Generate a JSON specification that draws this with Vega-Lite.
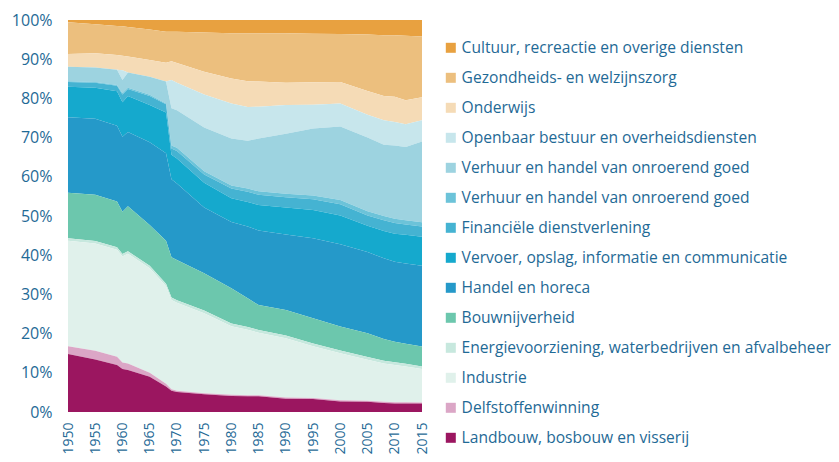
{
  "$schema": "https://vega.github.io/schema/vega-lite/v6.json",
  "width": 354,
  "height": 392,
  "autosize": {"type": "none"},
  "padding": {"left": 68, "top": 20, "right": 417, "bottom": 50},
  "background": "white",
  "config": {"view": {"stroke": null}, "font": "Open Sans"},
  "datasets": {
    "shares": [
      {"year":1950,"sector":"Cultuur, recreactie en overige diensten","share":0.6},
      {"year":1950,"sector":"Gezondheids- en welzijnszorg","share":8.1},
      {"year":1950,"sector":"Onderwijs","share":3.2},
      {"year":1950,"sector":"Openbaar bestuur en overheidsdiensten","share":0},
      {"year":1950,"sector":"Verhuur en handel van onroerend goed (a)","share":3.7},
      {"year":1950,"sector":"Verhuur en handel van onroerend goed (b)","share":0.2},
      {"year":1950,"sector":"Financiële dienstverlening","share":1.2},
      {"year":1950,"sector":"Vervoer, opslag, informatie en communicatie","share":7.8},
      {"year":1950,"sector":"Handel en horeca","share":19.3},
      {"year":1950,"sector":"Bouwnijverheid","share":11.6},
      {"year":1950,"sector":"Energievoorziening, waterbedrijven en afvalbeheer","share":0.6},
      {"year":1950,"sector":"Industrie","share":26.9},
      {"year":1950,"sector":"Delfstoffenwinning","share":2.0},
      {"year":1950,"sector":"Landbouw, bosbouw en visserij","share":14.8},

      {"year":1955,"sector":"Cultuur, recreactie en overige diensten","share":1.1},
      {"year":1955,"sector":"Gezondheids- en welzijnszorg","share":7.4},
      {"year":1955,"sector":"Onderwijs","share":3.6},
      {"year":1955,"sector":"Openbaar bestuur en overheidsdiensten","share":0},
      {"year":1955,"sector":"Verhuur en handel van onroerend goed (a)","share":3.7},
      {"year":1955,"sector":"Verhuur en handel van onroerend goed (b)","share":0.2},
      {"year":1955,"sector":"Financiële dienstverlening","share":1.3},
      {"year":1955,"sector":"Vervoer, opslag, informatie en communicatie","share":7.9},
      {"year":1955,"sector":"Handel en horeca","share":19.4},
      {"year":1955,"sector":"Bouwnijverheid","share":11.8},
      {"year":1955,"sector":"Energievoorziening, waterbedrijven en afvalbeheer","share":0.6},
      {"year":1955,"sector":"Industrie","share":27.4},
      {"year":1955,"sector":"Delfstoffenwinning","share":2.2},
      {"year":1955,"sector":"Landbouw, bosbouw en visserij","share":13.4},

      {"year":1959,"sector":"Cultuur, recreactie en overige diensten","share":1.5},
      {"year":1959,"sector":"Gezondheids- en welzijnszorg","share":7.4},
      {"year":1959,"sector":"Onderwijs","share":3.8},
      {"year":1959,"sector":"Openbaar bestuur en overheidsdiensten","share":0},
      {"year":1959,"sector":"Verhuur en handel van onroerend goed (a)","share":3.9},
      {"year":1959,"sector":"Verhuur en handel van onroerend goed (b)","share":0.2},
      {"year":1959,"sector":"Financiële dienstverlening","share":1.4},
      {"year":1959,"sector":"Vervoer, opslag, informatie en communicatie","share":8.8},
      {"year":1959,"sector":"Handel en horeca","share":19.3},
      {"year":1959,"sector":"Bouwnijverheid","share":11.7},
      {"year":1959,"sector":"Energievoorziening, waterbedrijven en afvalbeheer","share":0.6},
      {"year":1959,"sector":"Industrie","share":27.3},
      {"year":1959,"sector":"Delfstoffenwinning","share":2.1},
      {"year":1959,"sector":"Landbouw, bosbouw en visserij","share":12.0},

      {"year":1960,"sector":"Cultuur, recreactie en overige diensten","share":1.6},
      {"year":1960,"sector":"Gezondheids- en welzijnszorg","share":7.5},
      {"year":1960,"sector":"Onderwijs","share":3.7},
      {"year":1960,"sector":"Openbaar bestuur en overheidsdiensten","share":2.5},
      {"year":1960,"sector":"Verhuur en handel van onroerend goed (a)","share":3.4},
      {"year":1960,"sector":"Verhuur en handel van onroerend goed (b)","share":0.3},
      {"year":1960,"sector":"Financiële dienstverlening","share":2.0},
      {"year":1960,"sector":"Vervoer, opslag, informatie en communicatie","share":8.8},
      {"year":1960,"sector":"Handel en horeca","share":19.1},
      {"year":1960,"sector":"Bouwnijverheid","share":10.8},
      {"year":1960,"sector":"Energievoorziening, waterbedrijven en afvalbeheer","share":0.6},
      {"year":1960,"sector":"Industrie","share":27.1},
      {"year":1960,"sector":"Delfstoffenwinning","share":1.6},
      {"year":1960,"sector":"Landbouw, bosbouw en visserij","share":11.0},

      {"year":1961,"sector":"Cultuur, recreactie en overige diensten","share":1.8},
      {"year":1961,"sector":"Gezondheids- en welzijnszorg","share":7.5},
      {"year":1961,"sector":"Onderwijs","share":4.1},
      {"year":1961,"sector":"Openbaar bestuur en overheidsdiensten","share":0},
      {"year":1961,"sector":"Verhuur en handel van onroerend goed (a)","share":3.9},
      {"year":1961,"sector":"Verhuur en handel van onroerend goed (b)","share":0.3},
      {"year":1961,"sector":"Financiële dienstverlening","share":1.8},
      {"year":1961,"sector":"Vervoer, opslag, informatie en communicatie","share":9.2},
      {"year":1961,"sector":"Handel en horeca","share":18.9},
      {"year":1961,"sector":"Bouwnijverheid","share":11.5},
      {"year":1961,"sector":"Energievoorziening, waterbedrijven en afvalbeheer","share":0.6},
      {"year":1961,"sector":"Industrie","share":28.0},
      {"year":1961,"sector":"Delfstoffenwinning","share":1.7},
      {"year":1961,"sector":"Landbouw, bosbouw en visserij","share":10.7},

      {"year":1965,"sector":"Cultuur, recreactie en overige diensten","share":2.4},
      {"year":1965,"sector":"Gezondheids- en welzijnszorg","share":7.8},
      {"year":1965,"sector":"Onderwijs","share":4.3},
      {"year":1965,"sector":"Openbaar bestuur en overheidsdiensten","share":0},
      {"year":1965,"sector":"Verhuur en handel van onroerend goed (a)","share":4.6},
      {"year":1965,"sector":"Verhuur en handel van onroerend goed (b)","share":0.3},
      {"year":1965,"sector":"Financiële dienstverlening","share":2.3},
      {"year":1965,"sector":"Vervoer, opslag, informatie en communicatie","share":9.5},
      {"year":1965,"sector":"Handel en horeca","share":21.1},
      {"year":1965,"sector":"Bouwnijverheid","share":10.4},
      {"year":1965,"sector":"Energievoorziening, waterbedrijven en afvalbeheer","share":0.6},
      {"year":1965,"sector":"Industrie","share":26.7},
      {"year":1965,"sector":"Delfstoffenwinning","share":1.0},
      {"year":1965,"sector":"Landbouw, bosbouw en visserij","share":9.0},

      {"year":1968,"sector":"Cultuur, recreactie en overige diensten","share":3.0},
      {"year":1968,"sector":"Gezondheids- en welzijnszorg","share":7.9},
      {"year":1968,"sector":"Onderwijs","share":4.8},
      {"year":1968,"sector":"Openbaar bestuur en overheidsdiensten","share":0},
      {"year":1968,"sector":"Verhuur en handel van onroerend goed (a)","share":5.6},
      {"year":1968,"sector":"Verhuur en handel van onroerend goed (b)","share":0.2},
      {"year":1968,"sector":"Financiële dienstverlening","share":2.1},
      {"year":1968,"sector":"Vervoer, opslag, informatie en communicatie","share":10.4},
      {"year":1968,"sector":"Handel en horeca","share":22.3},
      {"year":1968,"sector":"Bouwnijverheid","share":11.0},
      {"year":1968,"sector":"Energievoorziening, waterbedrijven en afvalbeheer","share":0.6},
      {"year":1968,"sector":"Industrie","share":24.9},
      {"year":1968,"sector":"Delfstoffenwinning","share":0.7},
      {"year":1968,"sector":"Landbouw, bosbouw en visserij","share":6.5},

      {"year":1969,"sector":"Cultuur, recreactie en overige diensten","share":3.0},
      {"year":1969,"sector":"Gezondheids- en welzijnszorg","share":7.5},
      {"year":1969,"sector":"Onderwijs","share":4.8},
      {"year":1969,"sector":"Openbaar bestuur en overheidsdiensten","share":7.2},
      {"year":1969,"sector":"Verhuur en handel van onroerend goed (a)","share":9.5},
      {"year":1969,"sector":"Verhuur en handel van onroerend goed (b)","share":0.8},
      {"year":1969,"sector":"Financiële dienstverlening","share":1.6},
      {"year":1969,"sector":"Vervoer, opslag, informatie en communicatie","share":6.2},
      {"year":1969,"sector":"Handel en horeca","share":19.9},
      {"year":1969,"sector":"Bouwnijverheid","share":10.3},
      {"year":1969,"sector":"Energievoorziening, waterbedrijven en afvalbeheer","share":0.6},
      {"year":1969,"sector":"Industrie","share":22.8},
      {"year":1969,"sector":"Delfstoffenwinning","share":0.4},
      {"year":1969,"sector":"Landbouw, bosbouw en visserij","share":5.4},

      {"year":1970,"sector":"Cultuur, recreactie en overige diensten","share":3.0},
      {"year":1970,"sector":"Gezondheids- en welzijnszorg","share":8.0},
      {"year":1970,"sector":"Onderwijs","share":5.0},
      {"year":1970,"sector":"Openbaar bestuur en overheidsdiensten","share":7.0},
      {"year":1970,"sector":"Verhuur en handel van onroerend goed (a)","share":9.6},
      {"year":1970,"sector":"Verhuur en handel van onroerend goed (b)","share":0.8},
      {"year":1970,"sector":"Financiële dienstverlening","share":1.9},
      {"year":1970,"sector":"Vervoer, opslag, informatie en communicatie","share":6.4},
      {"year":1970,"sector":"Handel en horeca","share":19.5},
      {"year":1970,"sector":"Bouwnijverheid","share":10.3},
      {"year":1970,"sector":"Energievoorziening, waterbedrijven en afvalbeheer","share":0.6},
      {"year":1970,"sector":"Industrie","share":22.5},
      {"year":1970,"sector":"Delfstoffenwinning","share":0.3},
      {"year":1970,"sector":"Landbouw, bosbouw en visserij","share":5.1},

      {"year":1975,"sector":"Cultuur, recreactie en overige diensten","share":3.2},
      {"year":1975,"sector":"Gezondheids- en welzijnszorg","share":10.0},
      {"year":1975,"sector":"Onderwijs","share":5.8},
      {"year":1975,"sector":"Openbaar bestuur en overheidsdiensten","share":8.4},
      {"year":1975,"sector":"Verhuur en handel van onroerend goed (a)","share":11.2},
      {"year":1975,"sector":"Verhuur en handel van onroerend goed (b)","share":0.8},
      {"year":1975,"sector":"Financiële dienstverlening","share":2.1},
      {"year":1975,"sector":"Vervoer, opslag, informatie en communicatie","share":6.3},
      {"year":1975,"sector":"Handel en horeca","share":16.8},
      {"year":1975,"sector":"Bouwnijverheid","share":9.5},
      {"year":1975,"sector":"Energievoorziening, waterbedrijven en afvalbeheer","share":0.7},
      {"year":1975,"sector":"Industrie","share":20.4},
      {"year":1975,"sector":"Delfstoffenwinning","share":0.3},
      {"year":1975,"sector":"Landbouw, bosbouw en visserij","share":4.5},

      {"year":1980,"sector":"Cultuur, recreactie en overige diensten","share":3.4},
      {"year":1980,"sector":"Gezondheids- en welzijnszorg","share":11.5},
      {"year":1980,"sector":"Onderwijs","share":6.4},
      {"year":1980,"sector":"Openbaar bestuur en overheidsdiensten","share":8.9},
      {"year":1980,"sector":"Verhuur en handel van onroerend goed (a)","share":12.0},
      {"year":1980,"sector":"Verhuur en handel van onroerend goed (b)","share":0.8},
      {"year":1980,"sector":"Financiële dienstverlening","share":2.5},
      {"year":1980,"sector":"Vervoer, opslag, informatie en communicatie","share":6.0},
      {"year":1980,"sector":"Handel en horeca","share":16.9},
      {"year":1980,"sector":"Bouwnijverheid","share":9.0},
      {"year":1980,"sector":"Energievoorziening, waterbedrijven en afvalbeheer","share":0.7},
      {"year":1980,"sector":"Industrie","share":17.5},
      {"year":1980,"sector":"Delfstoffenwinning","share":0.3},
      {"year":1980,"sector":"Landbouw, bosbouw en visserij","share":4.1},

      {"year":1983,"sector":"Cultuur, recreactie en overige diensten","share":3.4},
      {"year":1983,"sector":"Gezondheids- en welzijnszorg","share":12.2},
      {"year":1983,"sector":"Onderwijs","share":6.6},
      {"year":1983,"sector":"Openbaar bestuur en overheidsdiensten","share":8.6},
      {"year":1983,"sector":"Verhuur en handel van onroerend goed (a)","share":12.2},
      {"year":1983,"sector":"Verhuur en handel van onroerend goed (b)","share":0.8},
      {"year":1983,"sector":"Financiële dienstverlening","share":2.6},
      {"year":1983,"sector":"Vervoer, opslag, informatie en communicatie","share":6.3},
      {"year":1983,"sector":"Handel en horeca","share":18.3},
      {"year":1983,"sector":"Bouwnijverheid","share":7.3},
      {"year":1983,"sector":"Energievoorziening, waterbedrijven en afvalbeheer","share":0.7},
      {"year":1983,"sector":"Industrie","share":16.7},
      {"year":1983,"sector":"Delfstoffenwinning","share":0.3},
      {"year":1983,"sector":"Landbouw, bosbouw en visserij","share":4.0},

      {"year":1985,"sector":"Cultuur, recreactie en overige diensten","share":3.4},
      {"year":1985,"sector":"Gezondheids- en welzijnszorg","share":12.3},
      {"year":1985,"sector":"Onderwijs","share":6.4},
      {"year":1985,"sector":"Openbaar bestuur en overheidsdiensten","share":8.1},
      {"year":1985,"sector":"Verhuur en handel van onroerend goed (a)","share":13.5},
      {"year":1985,"sector":"Verhuur en handel van onroerend goed (b)","share":0.9},
      {"year":1985,"sector":"Financiële dienstverlening","share":2.6},
      {"year":1985,"sector":"Vervoer, opslag, informatie en communicatie","share":6.5},
      {"year":1985,"sector":"Handel en horeca","share":19.0},
      {"year":1985,"sector":"Bouwnijverheid","share":6.4},
      {"year":1985,"sector":"Energievoorziening, waterbedrijven en afvalbeheer","share":0.7},
      {"year":1985,"sector":"Industrie","share":15.9},
      {"year":1985,"sector":"Delfstoffenwinning","share":0.3},
      {"year":1985,"sector":"Landbouw, bosbouw en visserij","share":4.0},

      {"year":1990,"sector":"Cultuur, recreactie en overige diensten","share":3.4},
      {"year":1990,"sector":"Gezondheids- en welzijnszorg","share":12.6},
      {"year":1990,"sector":"Onderwijs","share":5.7},
      {"year":1990,"sector":"Openbaar bestuur en overheidsdiensten","share":7.3},
      {"year":1990,"sector":"Verhuur en handel van onroerend goed (a)","share":15.3},
      {"year":1990,"sector":"Verhuur en handel van onroerend goed (b)","share":0.9},
      {"year":1990,"sector":"Financiële dienstverlening","share":2.6},
      {"year":1990,"sector":"Vervoer, opslag, informatie en communicatie","share":6.9},
      {"year":1990,"sector":"Handel en horeca","share":19.3},
      {"year":1990,"sector":"Bouwnijverheid","share":6.5},
      {"year":1990,"sector":"Energievoorziening, waterbedrijven en afvalbeheer","share":0.7},
      {"year":1990,"sector":"Industrie","share":15.1},
      {"year":1990,"sector":"Delfstoffenwinning","share":0.3},
      {"year":1990,"sector":"Landbouw, bosbouw en visserij","share":3.4},

      {"year":1995,"sector":"Cultuur, recreactie en overige diensten","share":3.5},
      {"year":1995,"sector":"Gezondheids- en welzijnszorg","share":12.4},
      {"year":1995,"sector":"Onderwijs","share":5.7},
      {"year":1995,"sector":"Openbaar bestuur en overheidsdiensten","share":6.1},
      {"year":1995,"sector":"Verhuur en handel van onroerend goed (a)","share":17.1},
      {"year":1995,"sector":"Verhuur en handel van onroerend goed (b)","share":0.9},
      {"year":1995,"sector":"Financiële dienstverlening","share":2.8},
      {"year":1995,"sector":"Vervoer, opslag, informatie en communicatie","share":7.2},
      {"year":1995,"sector":"Handel en horeca","share":20.4},
      {"year":1995,"sector":"Bouwnijverheid","share":6.4},
      {"year":1995,"sector":"Energievoorziening, waterbedrijven en afvalbeheer","share":0.7},
      {"year":1995,"sector":"Industrie","share":13.2},
      {"year":1995,"sector":"Delfstoffenwinning","share":0.3},
      {"year":1995,"sector":"Landbouw, bosbouw en visserij","share":3.3},

      {"year":2000,"sector":"Cultuur, recreactie en overige diensten","share":3.6},
      {"year":2000,"sector":"Gezondheids- en welzijnszorg","share":12.2},
      {"year":2000,"sector":"Onderwijs","share":5.5},
      {"year":2000,"sector":"Openbaar bestuur en overheidsdiensten","share":5.9},
      {"year":2000,"sector":"Verhuur en handel van onroerend goed (a)","share":18.7},
      {"year":2000,"sector":"Verhuur en handel van onroerend goed (b)","share":1.1},
      {"year":2000,"sector":"Financiële dienstverlening","share":2.9},
      {"year":2000,"sector":"Vervoer, opslag, informatie en communicatie","share":7.3},
      {"year":2000,"sector":"Handel en horeca","share":21.0},
      {"year":2000,"sector":"Bouwnijverheid","share":6.1},
      {"year":2000,"sector":"Energievoorziening, waterbedrijven en afvalbeheer","share":0.7},
      {"year":2000,"sector":"Industrie","share":12.0},
      {"year":2000,"sector":"Delfstoffenwinning","share":0.3},
      {"year":2000,"sector":"Landbouw, bosbouw en visserij","share":2.7},

      {"year":2005,"sector":"Cultuur, recreactie en overige diensten","share":3.7},
      {"year":2005,"sector":"Gezondheids- en welzijnszorg","share":14.4},
      {"year":2005,"sector":"Onderwijs","share":6.1},
      {"year":2005,"sector":"Openbaar bestuur en overheidsdiensten","share":5.8},
      {"year":2005,"sector":"Verhuur en handel van onroerend goed (a)","share":18.8},
      {"year":2005,"sector":"Verhuur en handel van onroerend goed (b)","share":1.1},
      {"year":2005,"sector":"Financiële dienstverlening","share":2.6},
      {"year":2005,"sector":"Vervoer, opslag, informatie en communicatie","share":6.7},
      {"year":2005,"sector":"Handel en horeca","share":20.7},
      {"year":2005,"sector":"Bouwnijverheid","share":6.1},
      {"year":2005,"sector":"Energievoorziening, waterbedrijven en afvalbeheer","share":0.7},
      {"year":2005,"sector":"Industrie","share":10.4},
      {"year":2005,"sector":"Delfstoffenwinning","share":0.3},
      {"year":2005,"sector":"Landbouw, bosbouw en visserij","share":2.6},

      {"year":2008,"sector":"Cultuur, recreactie en overige diensten","share":3.9},
      {"year":2008,"sector":"Gezondheids- en welzijnszorg","share":15.5},
      {"year":2008,"sector":"Onderwijs","share":6.2},
      {"year":2008,"sector":"Openbaar bestuur en overheidsdiensten","share":6.2},
      {"year":2008,"sector":"Verhuur en handel van onroerend goed (a)","share":18.2},
      {"year":2008,"sector":"Verhuur en handel van onroerend goed (b)","share":1.1},
      {"year":2008,"sector":"Financiële dienstverlening","share":2.7},
      {"year":2008,"sector":"Vervoer, opslag, informatie en communicatie","share":7.0},
      {"year":2008,"sector":"Handel en horeca","share":20.6},
      {"year":2008,"sector":"Bouwnijverheid","share":5.5},
      {"year":2008,"sector":"Energievoorziening, waterbedrijven en afvalbeheer","share":0.7},
      {"year":2008,"sector":"Industrie","share":9.8},
      {"year":2008,"sector":"Delfstoffenwinning","share":0.3},
      {"year":2008,"sector":"Landbouw, bosbouw en visserij","share":2.3},

      {"year":2010,"sector":"Cultuur, recreactie en overige diensten","share":3.9},
      {"year":2010,"sector":"Gezondheids- en welzijnszorg","share":15.7},
      {"year":2010,"sector":"Onderwijs","share":6.4},
      {"year":2010,"sector":"Openbaar bestuur en overheidsdiensten","share":6.0},
      {"year":2010,"sector":"Verhuur en handel van onroerend goed (a)","share":18.7},
      {"year":2010,"sector":"Verhuur en handel van onroerend goed (b)","share":1.1},
      {"year":2010,"sector":"Financiële dienstverlening","share":2.7},
      {"year":2010,"sector":"Vervoer, opslag, informatie en communicatie","share":7.2},
      {"year":2010,"sector":"Handel en horeca","share":20.4},
      {"year":2010,"sector":"Bouwnijverheid","share":5.2},
      {"year":2010,"sector":"Energievoorziening, waterbedrijven en afvalbeheer","share":0.7},
      {"year":2010,"sector":"Industrie","share":9.5},
      {"year":2010,"sector":"Delfstoffenwinning","share":0.3},
      {"year":2010,"sector":"Landbouw, bosbouw en visserij","share":2.2},

      {"year":2012,"sector":"Cultuur, recreactie en overige diensten","share":4.0},
      {"year":2012,"sector":"Gezondheids- en welzijnszorg","share":16.5},
      {"year":2012,"sector":"Onderwijs","share":6.1},
      {"year":2012,"sector":"Openbaar bestuur en overheidsdiensten","share":5.8},
      {"year":2012,"sector":"Verhuur en handel van onroerend goed (a)","share":18.7},
      {"year":2012,"sector":"Verhuur en handel van onroerend goed (b)","share":1.1},
      {"year":2012,"sector":"Financiële dienstverlening","share":2.6},
      {"year":2012,"sector":"Vervoer, opslag, informatie en communicatie","share":7.3},
      {"year":2012,"sector":"Handel en horeca","share":20.5},
      {"year":2012,"sector":"Bouwnijverheid","share":5.1},
      {"year":2012,"sector":"Energievoorziening, waterbedrijven en afvalbeheer","share":0.7},
      {"year":2012,"sector":"Industrie","share":9.1},
      {"year":2012,"sector":"Delfstoffenwinning","share":0.3},
      {"year":2012,"sector":"Landbouw, bosbouw en visserij","share":2.2},

      {"year":2015,"sector":"Cultuur, recreactie en overige diensten","share":4.2},
      {"year":2015,"sector":"Gezondheids- en welzijnszorg","share":15.5},
      {"year":2015,"sector":"Onderwijs","share":5.9},
      {"year":2015,"sector":"Openbaar bestuur en overheidsdiensten","share":5.4},
      {"year":2015,"sector":"Verhuur en handel van onroerend goed (a)","share":20.6},
      {"year":2015,"sector":"Verhuur en handel van onroerend goed (b)","share":1.1},
      {"year":2015,"sector":"Financiële dienstverlening","share":2.6},
      {"year":2015,"sector":"Vervoer, opslag, informatie en communicatie","share":7.4},
      {"year":2015,"sector":"Handel en horeca","share":20.6},
      {"year":2015,"sector":"Bouwnijverheid","share":5.1},
      {"year":2015,"sector":"Energievoorziening, waterbedrijven en afvalbeheer","share":0.6},
      {"year":2015,"sector":"Industrie","share":8.6},
      {"year":2015,"sector":"Delfstoffenwinning","share":0.2},
      {"year":2015,"sector":"Landbouw, bosbouw en visserij","share":2.2}
    ]
  },
  "data": {"name": "shares"},
  "transform": [
    {
      "calculate": "indexof(['Cultuur, recreactie en overige diensten','Gezondheids- en welzijnszorg','Onderwijs','Openbaar bestuur en overheidsdiensten','Verhuur en handel van onroerend goed (a)','Verhuur en handel van onroerend goed (b)','Financiële dienstverlening','Vervoer, opslag, informatie en communicatie','Handel en horeca','Bouwnijverheid','Energievoorziening, waterbedrijven en afvalbeheer','Industrie','Delfstoffenwinning','Landbouw, bosbouw en visserij'], datum.sector)",
      "as": "legendRank"
    }
  ],
  "mark": {"type": "area", "interpolate": "linear"},
  "encoding": {
    "x": {
      "field": "year",
      "type": "quantitative",
      "scale": {"domain": [1950, 2015], "nice": false, "zero": false},
      "axis": {
        "values": [1950, 1955, 1960, 1965, 1970, 1975, 1980, 1985, 1990, 1995, 2000, 2005, 2010, 2015],
        "format": "d",
        "labelAngle": -90,
        "ticks": false,
        "domain": false,
        "grid": false,
        "title": null,
        "labelFontSize": 14,
        "labelColor": "#1f6a96",
        "labelPadding": 10,
        "labelFlush": false,
        "labelOverlap": false
      }
    },
    "y": {
      "field": "share",
      "type": "quantitative",
      "stack": "normalize",
      "scale": {"domain": [0, 1]},
      "axis": {
        "format": ".0%",
        "values": [0, 0.1, 0.2, 0.3, 0.4, 0.5, 0.6, 0.7, 0.8, 0.9, 1],
        "ticks": false,
        "domain": false,
        "grid": false,
        "title": null,
        "labelFontSize": 16,
        "labelColor": "#1f6a96",
        "labelPadding": 16
      }
    },
    "order": {"field": "legendRank", "type": "quantitative", "sort": "descending"},
    "color": {
      "field": "sector",
      "type": "nominal",
      "scale": {
        "domain": [
          "Cultuur, recreactie en overige diensten",
          "Gezondheids- en welzijnszorg",
          "Onderwijs",
          "Openbaar bestuur en overheidsdiensten",
          "Verhuur en handel van onroerend goed (a)",
          "Verhuur en handel van onroerend goed (b)",
          "Financiële dienstverlening",
          "Vervoer, opslag, informatie en communicatie",
          "Handel en horeca",
          "Bouwnijverheid",
          "Energievoorziening, waterbedrijven en afvalbeheer",
          "Industrie",
          "Delfstoffenwinning",
          "Landbouw, bosbouw en visserij"
        ],
        "range": ["#e8a140", "#ecbf7e", "#f5dbb6", "#c7e6ec", "#9dd3e0", "#6cc3d9", "#45b3d2", "#15a9cd", "#2599c9", "#6cc7ad", "#c7e8de", "#e0f1eb", "#dba6c6", "#9b1660"]
      },
      "legend": {
        "orient": "none",
        "legendX": 375,
        "legendY": 20,
        "title": null,
        "symbolType": "square",
        "symbolSize": 100,
        "symbolStrokeWidth": 0,
        "symbolOpacity": 1,
        "labelFontSize": 15.6,
        "labelColor": "#1f6a96",
        "labelOffset": 3,
        "labelLimit": 500,
        "rowPadding": 13,
        "labelExpr": "indexof(datum.label, 'Verhuur') === 0 ? 'Verhuur en handel van onroerend goed' : (datum.label === 'Landbouw, bosbouw en visserij' ? ' Landbouw, bosbouw en visserij' : datum.label)"
      }
    }
  }
}
